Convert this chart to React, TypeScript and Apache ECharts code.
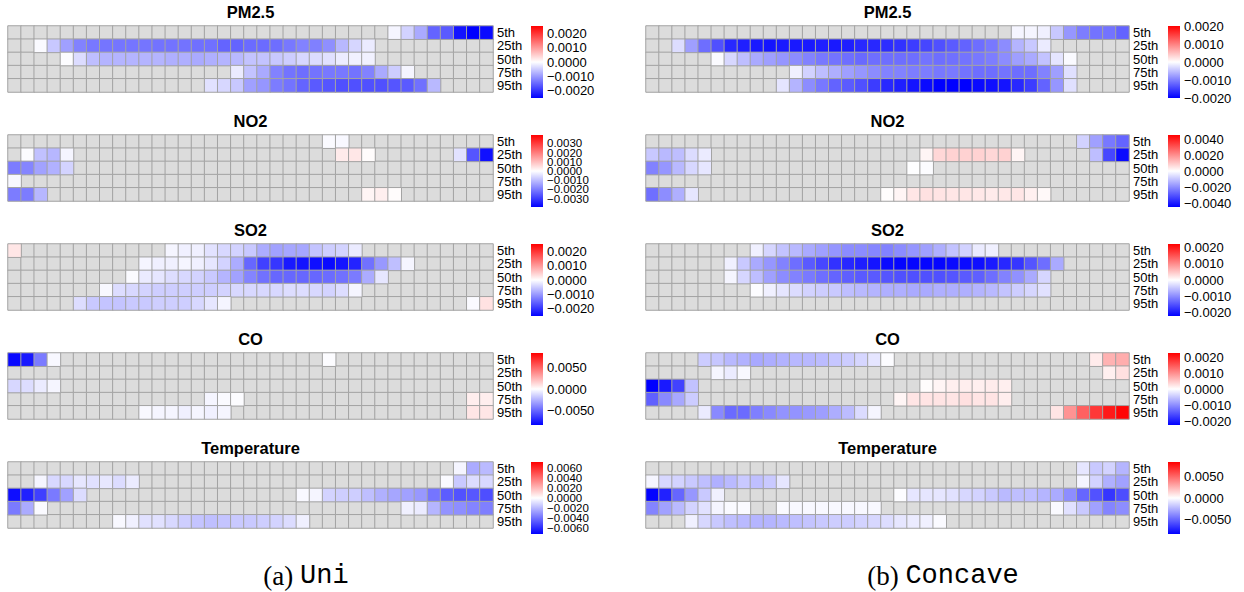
import React, { useEffect, useRef } from "react";
import * as echarts from "echarts";

// A row is a list of runs: [first lag column, consecutive values in units of 1e-4].
// Columns not covered by a run are NA (drawn grey).
type Run = [number, number[]];
type Row = Run[];

const N_LAGS = 37;
const LAGS = Array.from({ length: N_LAGS }, (_, i) => String(i + 1));
const QUANTILES = ["5th", "25th", "50th", "75th", "95th"];
const VARIABLES = ["PM2.5", "NO2", "SO2", "CO", "Temperature"];
const UNIT = 1e-4;

// ---------------- (a) Uni ----------------
const PM25_UNI: Row[] = [
  [[29, [-1, -4.4, -8.3, -15.2, -16.2, -23, -25, -24]]],
  [[2, [-0.5, -5.4, -9.3, -12.3, -13.2, -13.5, -13.5, -13.5, -13.5, -13.7, -13.7, -13.7, -14, -14, -15.2, -15.2, -14.5, -14.5, -14.2, -13.2, -12.3, -12.5, -11, -7, -4, -2]]],
  [[4, [-0.3, -3.4, -6.4, -7.4, -7.4, -7.4, -7.4, -7.4, -7.8, -7.8, -8.3, -7.8, -7.4, -6.9, -5.9, -5.9, -5.4, -4.9, -3.9, -3.4, -2.9, -1.9, -1.4, -1.4]]],
  [[17, [-2, -5.9, -8.3, -12.3, -13.7, -14.2, -13.7, -13.2, -13.2, -13.7, -12.3, -8.3, -4.9, -1]]],
  [[15, [-2.9, -3.9, -5.4, -9.3, -10.3, -12.8, -13.7, -15.2, -16.2, -16.7, -17.2, -17.2, -17.2, -17.2, -16.7, -16.2, -14, -6.9]]],
];
const NO2_UNI: Row[] = [
  [[24, [-0.7, -1]]],
  [[1, [-0.4, -9.5, -11, -1.5]], [25, [3, 3.7, 0.5]], [34, [-4.5, -26, -36.5]]],
  [[0, [-20, -18.6, -14.2, -11.9, -6.7]]],
  [[0, [-1]]],
  [[0, [-20, -20, -11]], [27, [1.5, 2.5, 0.5]]],
];
const SO2_UNI: Row[] = [
  [[0, [2.5]], [12, [-1, -1.5, -1.5, -2.9, -3.9, -4.4, -5.4, -8.3, -9.3, -8.8, -8.8, -5.9, -4.9, -4.4, -2]]],
  [[10, [-1, -1.5, -1.5, -1, -1.5, -2.5, -4.4, -8.3, -15.2, -19.1, -20.1, -23, -23.5, -24, -24.5, -23.5, -22, -14.2, -10.3, -6.4, -1]]],
  [[9, [-0.5, -2, -2.5, -3.4, -3.9, -4.4, -5.4, -7.4, -9.3, -12.3, -14.2, -15.2, -15.2, -15.2, -15.2, -14.7, -14.2, -13.2, -8.3, -2.5]]],
  [[7, [-0.7, -3.4, -3.9, -4.4, -4.9, -4.9, -4.9, -4.9, -4.9, -4.4, -3.9, -3.9, -3.9, -3.9, -3.4, -3.4, -3.9, -4.4, -3.4, -1]]],
  [[5, [-3.4, -5.4, -5.9, -5.9, -5.4, -5.4, -4.9, -4.9, -4.9, -3.9, -2.5, -1]], [35, [-0.5, 2.9]]],
];
const CO_UNI: Row[] = [
  [[0, [-82, -77, -44, -2.3]], [24, [-1]]],
  [],
  [[0, [-13.2, -11.5, -6.6, -3.3]]],
  [[15, [-3.3, -1.6, -1]], [35, [5.6, 5.6]]],
  [[10, [-2.3, -3.3, -3.3, -4.9, -3.3, -4.9, -3.3]], [35, [8.2, 8.2]]],
];
const TEMP_UNI: Row[] = [
  [[34, [-2.8, -24, -19.7]]],
  [[2, [-2.8, -11.3, -11.3, -7, -8.5, -7, -9.9, -5.6]], [33, [-1.4, -15.5, -9.9, -11.3]]],
  [[0, [-69, -63.5, -55, -38, -26.8, -9.9]], [22, [-2, -2.8, -12.7, -14.1, -14.1, -18.3, -22.6, -25.4, -26.8, -29.6, -39.5, -46.5, -49.4, -48, -50.8]]],
  [[0, [-38, -24, -1.4]], [30, [-4.2, -5.6, -21.2, -31, -32.4, -35.3, -36.7]]],
  [[8, [-2, -4.2, -8.5, -8.5, -11.3, -14.1, -16.9, -18.3, -16.9, -15.5, -15.5, -14.1, -12.7, -9.9, -4.2]]],
];

// ---------------- (b) Concave ----------------
const PM25_CONC: Row[] = [
  [[28, [-0.8, -0.8, -1.2, -4.3, -8.2, -10.2, -11, -11, -12.2]]],
  [[2, [-2.7, -7.5, -11.4, -13.7, -16.9, -17.6, -18, -18.4, -18, -18, -18, -17.6, -18, -17.6, -16.9, -16.9, -16.5, -16.1, -15.3, -14.5, -13.7, -12.9, -12.2, -11.4, -10.6, -9, -5.9, -4.3, -1.6]]],
  [[5, [-0.4, -3.1, -5.1, -6.7, -7.5, -8.2, -9, -9.8, -10.6, -11, -11.4, -11.8, -11.4, -11.4, -11.4, -11.4, -11, -11.4, -11.2, -11, -10.6, -10.2, -9, -7.5, -6.7, -4.7, -2, -0.4]]],
  [[11, [-1.2, -3.5, -5.1, -6.3, -7.5, -8.2, -9, -9.8, -9.8, -10.2, -10.2, -10.6, -10.4, -11, -11.4, -11.4, -11, -11.4, -11.4, -9.8, -7.5, -2.4]]],
  [[10, [-2, -5.9, -9, -10.6, -12.2, -12.9, -13.7, -15.3, -16.9, -17.6, -18.4, -19.2, -20, -20, -20, -19.2, -18.8, -18.4, -16.9, -15.3, -12.2, -8.2, -2.4]]],
];
const NO2_CONC: Row[] = [
  [[33, [-7.9, -16.8, -23.8, -27.3]]],
  [[0, [-9.7, -12.4, -11.5, -6.2, -3.5]], [21, [1.8, 7, 7.9, 7.9, 7.9, 7, 7.9, 1.8]], [34, [-11.5, -32.6, -43]]],
  [[0, [-22, -18.5, -12.4, -7, -4.4]], [20, [-0.1, -0.5]]],
  [],
  [[0, [-25.5, -20.2, -14.1, -4.4]], [18, [0.3, 1.8, 4.4, 5.3, 4.8, 4.4, 4.4, 4, 3.5, 4, 4.4, 2.6, 1]]],
];
const SO2_CONC: Row[] = [
  [[8, [-1.3, -3.5, -5.2, -6, -7.3, -8.2, -9.1, -9.9, -9.9, -10.4, -10.8, -9.9, -9.1, -8.2, -6.9, -5.2, -3.9, -1.7, -1.3]]],
  [[6, [-1.3, -4.7, -7.3, -9.1, -10.8, -12.5, -14.2, -15.9, -17.7, -18.6, -19.4, -20.3, -21.1, -21.6, -21.6, -21.6, -21.6, -21.1, -21.1, -20.7, -19.8, -18.6, -17.3, -14.7, -12.5, -7.3]]],
  [[6, [-0.9, -3.5, -5.6, -8.2, -9.9, -10.8, -11.6, -12.5, -13.4, -13.8, -14.2, -14.2, -14.7, -15.1, -15.1, -15.1, -15.1, -14.7, -14.2, -13.8, -12.5, -10.8, -9.5, -7.3, -3.5]]],
  [[8, [-0.3, -1.3, -2.2, -3, -3.9, -4.3, -4.7, -5.6, -6, -6.5, -6.9, -6.9, -7.3, -7.3, -6.9, -6.9, -6.9, -6.5, -6, -5.2, -4.3, -3.5, -2.6]]],
  [],
];
const CO_CONC: Row[] = [
  [[4, [-4.5, -5, -6.3, -6.8, -7.7, -7.2, -6.8, -6.3, -6.3, -5.9, -5, -4.5, -3.6, -2.3, -0.3]], [34, [1.8, 6.8, 7.2]]],
  [[5, [-0.9, -1.8, -0.6]], [35, [1.4, 2.7]]],
  [[0, [-22.5, -20.3, -16.7, -5.4]], [21, [0.3, 0.9, 1.4, 1.5, 1.4, 1.7, 1.4]]],
  [[0, [-14, -10.4, -7.7, -4.5]], [19, [0.9, 2.3, 2.4, 2.4, 2.3, 2.7, 2.3, 2.4, 1.5]]],
  [[4, [-1.8, -10.4, -13.1, -13.1, -11.3, -10.4, -9.5, -9.5, -9, -8.6, -7.2, -5.9, -3.2, -0.9]], [31, [2.3, 9.5, 14, 17.6, 20.3, 22.1]]],
];
const TEMP_CONC: Row[] = [
  [[33, [-8.2, -18.1, -14.8, -24.7]]],
  [[0, [-3.3, -13.2, -14.8, -18.1, -21.4, -26.3, -23, -18.1, -21.4, -18.1, -8.2]], [33, [-3.3, -14.8, -26.3, -31.3]]],
  [[0, [-84, -74, -51, -34.6, -18.1, -4.9]], [19, [-1, -8.2, -8.2, -8.2, -9.9, -13.2, -14.8, -18.1, -23, -21.4, -21.4, -24.7, -28, -37.9, -51, -57.6, -67.5, -59.3]]],
  [[0, [-41.1, -31.3, -23, -14.8, -9.9, -3.3, -1.6, -1.6]], [10, [-1.6, -2.3, -2.3, -2.3, -2.3, -2.3, -2.3, -2.3]], [31, [-1.6, -9.9, -18.1, -31.3, -41.1, -37.9]]],
  [[3, [-4.9, -13.2, -18.1, -21.4, -23, -24.7, -24.7, -23, -21.4, -19.7, -18.1, -16.5, -16.5, -14.8, -13.2, -11.5, -8.2, -6.6, -4.9, -1.6]]],
];

// colour-scale half ranges (units of 1e-4) and colourbar tick labels (units of 1e-4)
const UNI_RANGE = [25, 39, 25.5, 85, 73];
const CONC_RANGE = [20, 45, 22, 22.5, 85];
const UNI_TICKS = [
  [20, 10, 0, -10, -20],
  [30, 20, 10, 0, -10, -20, -30],
  [20, 10, 0, -10, -20],
  [50, 0, -50],
  [60, 40, 20, 0, -20, -40, -60],
];
const CONC_TICKS = [
  [20, 10, 0, -10, -20],
  [40, 20, 0, -20, -40],
  [20, 10, 0, -10, -20],
  [20, 10, 0, -10, -20],
  [50, 0, -50],
];
const CAPTIONS = [
  ["(a) ", "Uni"],
  ["(b) ", "Concave"],
];

// ---------------- layout ----------------
const SANS = '"Liberation Sans", Arial, Helvetica, sans-serif';
const TOP0 = 26;
const STEP = 109;
const CELL_H = 66;
const CB_W = 12;
const CB_H = 72;
const COLUMNS = [
  { x: 8, w: 485, cb: 531, cap: 306, data: [PM25_UNI, NO2_UNI, SO2_UNI, CO_UNI, TEMP_UNI], range: UNI_RANGE, ticks: UNI_TICKS, caption: CAPTIONS[0] },
  { x: 646, w: 483, cb: 1168, cap: 943, data: [PM25_CONC, NO2_CONC, SO2_CONC, CO_CONC, TEMP_CONC], range: CONC_RANGE, ticks: CONC_TICKS, caption: CAPTIONS[1] },
];

const fmt = (v: number) => {
  if (Math.abs(v) < 1e-12) return "0.0000";
  return (v < 0 ? "\u2212" : "") + Math.abs(v).toFixed(4);
};

function buildOption() {
  const grid: any[] = [];
  const xAxis: any[] = [];
  const yAxis: any[] = [];
  const series: any[] = [];
  const visualMap: any[] = [];
  const graphic: any[] = [];
  const naSeries: number[] = [];
  const border = { borderColor: "#a3a3a3", borderWidth: 1 };

  COLUMNS.forEach((col) => {
    VARIABLES.forEach((name, r) => {
      const top = TOP0 + STEP * r;
      const gi = grid.length;
      grid.push({ left: col.x, top, width: col.w, height: CELL_H });
      xAxis.push({ type: "category", gridIndex: gi, data: LAGS, show: false });
      const hy = yAxis.length;
      yAxis.push({
        type: "category",
        gridIndex: gi,
        data: QUANTILES,
        inverse: true,
        position: "right",
        axisLine: { show: false },
        axisTick: { show: false },
        splitLine: { show: false },
        axisLabel: { interval: 0, margin: 4, fontSize: 13, lineHeight: 13, color: "#000", fontFamily: SANS },
      });
      const na: number[][] = [];
      const vals: number[][] = [];
      col.data[r].forEach((runs, y) => {
        const cells: (number | null)[] = new Array(N_LAGS).fill(null);
        runs.forEach(([start, values]) => values.forEach((v, k) => (cells[start + k] = v)));
        cells.forEach((v, x) => {
          if (v === null) na.push([x, y, 0]);
          else vals.push([x, y, v * UNIT]);
        });
      });
      naSeries.push(series.length);
      series.push({ type: "heatmap", name: name + " NA", xAxisIndex: gi, yAxisIndex: hy, data: na, itemStyle: border, emphasis: { disabled: true } });
      const vi = series.length;
      series.push({ type: "heatmap", name, xAxisIndex: gi, yAxisIndex: hy, data: vals, itemStyle: border, emphasis: { disabled: true } });
      const M = col.range[r] * UNIT;
      visualMap.push({
        type: "continuous",
        show: false,
        seriesIndex: vi,
        dimension: 2,
        min: -M,
        max: M,
        inRange: { color: ["#0000ff", "#ffffff", "#ff0000"] },
      });

      // colourbar: labels are split over two coincident axes when dense,
      // so that the axis' own overlap removal keeps every label
      const ticks = col.ticks[r];
      const dense = ticks.length > 5;
      const groups = dense
        ? [ticks.filter((_, i) => i % 2 === 0), ticks.filter((_, i) => i % 2 === 1)]
        : [ticks];
      const ci = grid.length;
      grid.push({ left: col.cb, top, width: CB_W, height: CB_H });
      xAxis.push({ type: "value", gridIndex: ci, show: false, min: 0, max: 1 });
      groups.forEach((g) => {
        yAxis.push({
          type: "value",
          gridIndex: ci,
          min: -M,
          max: M,
          position: "right",
          offset: 0,
          axisLine: { show: false },
          axisTick: { show: false },
          splitLine: { show: false },
          axisLabel: {
            customValues: g.map((t) => t * UNIT),
            formatter: fmt,
            showMinLabel: true,
            showMaxLabel: true,
            hideOverlap: false,
            margin: 4,
            fontSize: dense ? 11.5 : 13,
            lineHeight: dense ? 9 : 13,
            color: "#000",
            fontFamily: SANS,
          },
        });
      });
      graphic.push({
        type: "rect",
        silent: true,
        shape: { x: col.cb, y: top, width: CB_W, height: CB_H },
        style: {
          fill: new echarts.graphic.LinearGradient(0, 0, 0, 1, [
            { offset: 0, color: "#ff0000" },
            { offset: 0.5, color: "#ffffff" },
            { offset: 1, color: "#0000ff" },
          ]),
        },
      });
      graphic.push({
        type: "text",
        silent: true,
        x: col.x + col.w / 2,
        y: top - 14,
        style: {
          text: name,
          fontSize: 16.5,
          fontWeight: "bold",
          fontFamily: SANS,
          fill: "#000",
          textAlign: "center",
          textVerticalAlign: "middle",
        },
      });
    });
    graphic.push({
      type: "text",
      silent: true,
      x: col.cap,
      y: 576,
      style: {
        text: "{a|" + col.caption[0] + "}{b|" + col.caption[1] + "}",
        rich: {
          a: { fontFamily: '"Liberation Serif", "DejaVu Serif", serif', fontSize: 27, fill: "#000" },
          b: { fontFamily: '"Liberation Mono", "DejaVu Sans Mono", monospace', fontSize: 27, fill: "#000" },
        },
        textAlign: "center",
        textVerticalAlign: "middle",
      },
    });
  });

  visualMap.push({
    type: "continuous",
    show: false,
    seriesIndex: naSeries,
    dimension: 2,
    min: 0,
    max: 1,
    inRange: { color: ["#dcdcdc", "#dcdcdc"] },
  });

  return {
    animation: false,
    backgroundColor: "#ffffff",
    grid,
    xAxis,
    yAxis,
    visualMap,
    series,
    graphic,
  };
}

export default function App() {
  const ref = useRef<HTMLDivElement>(null);
  useEffect(() => {
    if (!ref.current) return;
    const chart = echarts.init(ref.current, undefined, { renderer: "svg" });
    chart.setOption(buildOption() as any);
    return () => chart.dispose();
  }, []);
  return (
    <div
      ref={ref}
      style={{ position: "absolute", left: 0, top: 0, width: 1244, height: 592, background: "#fff" }}
    />
  );
}
